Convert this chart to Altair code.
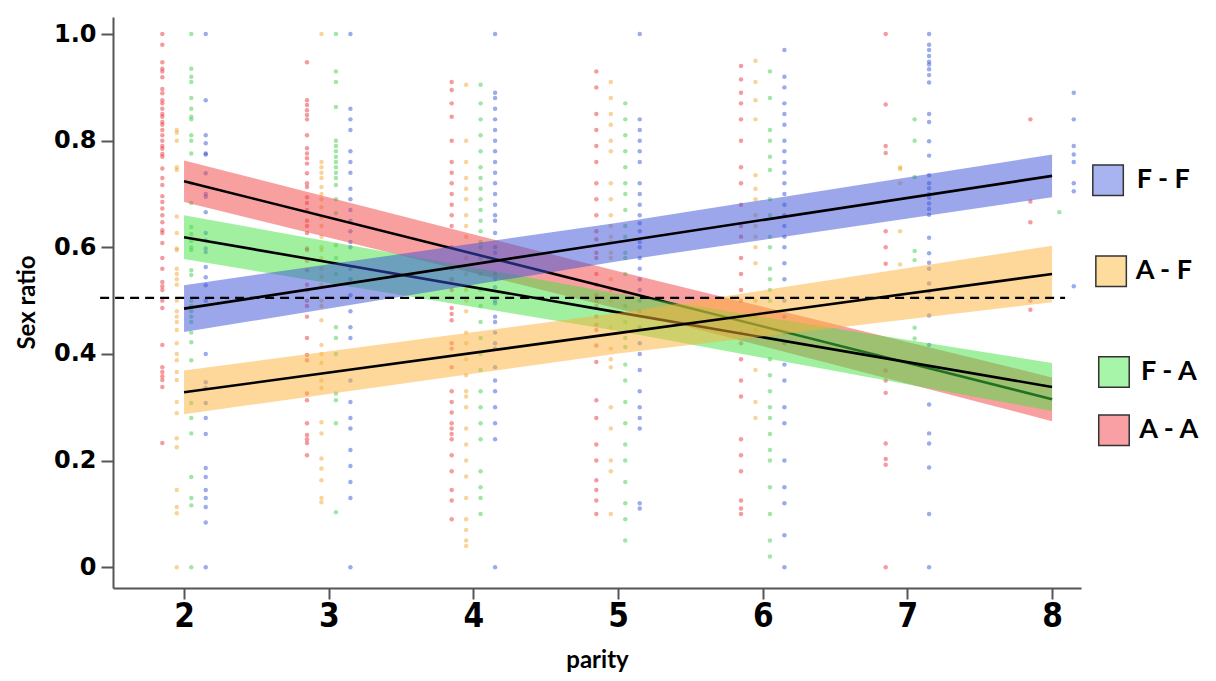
import altair as alt
import pandas as pd

# ---------------- data ----------------
parities = [2, 3, 4, 5, 6, 7, 8]
groups = ["A - A", "F - A", "A - F", "F - F"]
group_offset = [-0.15, 0.05, -0.05, 0.15]

# observed sex ratios, one list per parity (2..8)
aa_values = [
    [1.0, 0.98, 0.947, 0.935, 0.93, 0.919, 0.897, 0.889, 0.876, 0.87, 0.86, 0.85, 0.845, 0.835, 0.83, 0.82,
     0.81, 0.80, 0.79, 0.785, 0.775, 0.77, 0.748, 0.73, 0.717, 0.696, 0.685, 0.673, 0.66, 0.647, 0.632, 0.627,
     0.608, 0.58, 0.56, 0.535, 0.527, 0.52, 0.50, 0.486, 0.417, 0.375, 0.366, 0.358, 0.351, 0.338, 0.233],
    [0.947, 0.876, 0.867, 0.857, 0.848, 0.84, 0.81, 0.786, 0.776, 0.767, 0.757, 0.739, 0.72, 0.713, 0.694,
     0.683, 0.67, 0.65, 0.64, 0.627, 0.598, 0.595, 0.575, 0.557, 0.53, 0.52, 0.50, 0.49, 0.47, 0.43, 0.398,
     0.388, 0.326, 0.313, 0.27, 0.248, 0.24, 0.233, 0.21],
    [0.91, 0.895, 0.87, 0.845, 0.80, 0.76, 0.74, 0.72, 0.70, 0.68, 0.66, 0.64, 0.60, 0.56, 0.54, 0.52, 0.486,
     0.475, 0.463, 0.42, 0.41, 0.375, 0.33, 0.31, 0.29, 0.27, 0.26, 0.25, 0.24, 0.21, 0.18, 0.145, 0.125, 0.09],
    [0.93, 0.9, 0.85, 0.82, 0.79, 0.76, 0.72, 0.69, 0.66, 0.63, 0.615, 0.59, 0.58, 0.55, 0.53, 0.51, 0.50,
     0.49, 0.47, 0.455, 0.445, 0.416, 0.385, 0.313, 0.28, 0.23, 0.2, 0.163, 0.145, 0.125, 0.1],
    [0.94, 0.915, 0.89, 0.87, 0.84, 0.80, 0.75, 0.72, 0.68, 0.64, 0.62, 0.58, 0.55, 0.52, 0.5, 0.47, 0.44,
     0.42, 0.39, 0.35, 0.32, 0.24, 0.21, 0.18, 0.125, 0.11, 0.1],
    [1.0, 0.868, 0.79, 0.777, 0.63, 0.6, 0.569, 0.369, 0.35, 0.327, 0.232, 0.203, 0.192, 0.0],
    [0.84, 0.686, 0.647, 0.5, 0.483],
]
fa_values = [
    [1.0, 0.935, 0.92, 0.91, 0.88, 0.86, 0.845, 0.84, 0.81, 0.80, 0.776, 0.72, 0.683, 0.638, 0.625, 0.612,
     0.60, 0.595, 0.557, 0.548, 0.5, 0.49, 0.48, 0.47, 0.46, 0.44, 0.422, 0.388, 0.308, 0.28, 0.251, 0.169,
     0.13, 0.116, 0.0],
    [1.0, 0.93, 0.91, 0.863, 0.80, 0.79, 0.78, 0.77, 0.76, 0.75, 0.74, 0.73, 0.717, 0.69, 0.664, 0.604, 0.58,
     0.55, 0.45, 0.43, 0.4, 0.326, 0.313, 0.27, 0.103],
    [0.905, 0.87, 0.84, 0.81, 0.78, 0.75, 0.73, 0.71, 0.69, 0.67, 0.65, 0.63, 0.61, 0.6, 0.58, 0.55, 0.52,
     0.49, 0.46, 0.43, 0.4, 0.37, 0.33, 0.3, 0.27, 0.24, 0.18, 0.15, 0.13, 0.1],
    [0.87, 0.84, 0.81, 0.78, 0.75, 0.72, 0.7, 0.67, 0.64, 0.62, 0.59, 0.58, 0.55, 0.516, 0.49, 0.46, 0.43,
     0.413, 0.38, 0.35, 0.31, 0.27, 0.23, 0.2, 0.16, 0.12, 0.09, 0.05],
    [0.93, 0.88, 0.82, 0.8, 0.77, 0.745, 0.69, 0.66, 0.62, 0.6, 0.56, 0.54, 0.52, 0.5, 0.39, 0.36, 0.33, 0.3,
     0.28, 0.25, 0.22, 0.2, 0.15, 0.1, 0.05, 0.02],
    [0.84, 0.8, 0.732, 0.593, 0.576, 0.449, 0.429],
    [0.666],
]
af_values = [
    [0.82, 0.815, 0.80, 0.75, 0.745, 0.658, 0.627, 0.598, 0.595, 0.56, 0.55, 0.54, 0.53, 0.50, 0.48, 0.47,
     0.46, 0.445, 0.42, 0.40, 0.388, 0.366, 0.351, 0.31, 0.289, 0.242, 0.225, 0.145, 0.113, 0.101, 0.0],
    [1.0, 0.76, 0.75, 0.74, 0.73, 0.713, 0.70, 0.69, 0.675, 0.656, 0.64, 0.62, 0.60, 0.595, 0.58, 0.56, 0.545,
     0.53, 0.50, 0.49, 0.463, 0.417, 0.40, 0.383, 0.35, 0.336, 0.272, 0.251, 0.204, 0.185, 0.163, 0.13, 0.122],
    [0.905, 0.8, 0.76, 0.73, 0.71, 0.69, 0.66, 0.64, 0.62, 0.58, 0.55, 0.52, 0.5, 0.48, 0.44, 0.42, 0.39,
     0.36, 0.33, 0.32, 0.30, 0.26, 0.23, 0.2, 0.17, 0.13, 0.09, 0.07, 0.05, 0.04],
    [0.91, 0.88, 0.85, 0.83, 0.80, 0.78, 0.72, 0.69, 0.66, 0.64, 0.62, 0.61, 0.59, 0.58, 0.54, 0.52, 0.5,
     0.48, 0.45, 0.41, 0.39, 0.375, 0.3, 0.26, 0.2, 0.18, 0.1],
    [0.95, 0.91, 0.876, 0.84, 0.735, 0.71, 0.69, 0.66, 0.64, 0.62, 0.6, 0.57, 0.5, 0.47, 0.445, 0.37, 0.31, 0.28],
    [0.75, 0.747, 0.72, 0.63, 0.568],
    [],
]
ff_values = [
    [1.0, 0.876, 0.81, 0.795, 0.776, 0.774, 0.739, 0.70, 0.695, 0.666, 0.627, 0.613, 0.598, 0.591, 0.563,
     0.544, 0.529, 0.50, 0.4, 0.347, 0.336, 0.308, 0.28, 0.25, 0.186, 0.169, 0.145, 0.13, 0.113, 0.084, 0.0],
    [1.0, 0.86, 0.84, 0.82, 0.78, 0.76, 0.74, 0.71, 0.69, 0.67, 0.65, 0.63, 0.61, 0.6, 0.56, 0.54, 0.51, 0.48,
     0.45, 0.43, 0.35, 0.31, 0.28, 0.26, 0.22, 0.19, 0.16, 0.13, 0.0],
    [1.0, 0.89, 0.88, 0.86, 0.84, 0.82, 0.8, 0.78, 0.76, 0.74, 0.72, 0.7, 0.68, 0.66, 0.65, 0.627, 0.6, 0.59,
     0.55, 0.54, 0.525, 0.5, 0.495, 0.47, 0.46, 0.44, 0.42, 0.41, 0.375, 0.35, 0.33, 0.3, 0.27, 0.24, 0.0],
    [1.0, 0.84, 0.82, 0.8, 0.78, 0.76, 0.72, 0.7, 0.68, 0.66, 0.645, 0.63, 0.61, 0.6, 0.58, 0.56, 0.54, 0.52,
     0.5, 0.48, 0.45, 0.42, 0.4, 0.37, 0.33, 0.3, 0.28, 0.26, 0.12, 0.11],
    [0.97, 0.92, 0.9, 0.87, 0.85, 0.83, 0.8, 0.78, 0.76, 0.74, 0.72, 0.7, 0.68, 0.66, 0.64, 0.62, 0.6, 0.57,
     0.54, 0.5, 0.47, 0.44, 0.42, 0.38, 0.35, 0.3, 0.27, 0.2, 0.15, 0.12, 0.06, 0.0],
    [1.0, 0.98, 0.97, 0.959, 0.948, 0.943, 0.934, 0.923, 0.909, 0.85, 0.835, 0.799, 0.772, 0.735, 0.72, 0.711,
     0.7, 0.693, 0.682, 0.672, 0.661, 0.618, 0.589, 0.571, 0.56, 0.532, 0.517, 0.504, 0.472, 0.417, 0.305,
     0.251, 0.232, 0.187, 0.1, 0.0],
    [0.89, 0.84, 0.79, 0.774, 0.76, 0.72, 0.705, 0.527],
]

# fitted regression lines with confidence half-widths at parity 2, 5, 8
fit_parity = [2, 5, 8]
aa_fit = [0.724, 0.52, 0.315]
aa_half = [0.039, 0.035, 0.041]
fa_fit = [0.619, 0.478, 0.338]
fa_half = [0.041, 0.035, 0.045]
af_fit = [0.328, 0.439, 0.55]
af_half = [0.041, 0.038, 0.053]
ff_fit = [0.485, 0.61, 0.734]
ff_half = [0.044, 0.036, 0.04]

reference_ratio = 0.505

# ---------------- styles ----------------
point_colors = ["#e8202a", "#2ec83c", "#f0a020", "#2244d4"]
band_colors = ["#f14141", "#41e141", "#fbb135", "#3a4fd8"]
legend_fill = ["#f8a0a4", "#a6f5a8", "#fddc9e", "#a8b4f0"]

values_by_group = [aa_values, fa_values, af_values, ff_values]
fits = [(aa_fit, aa_half), (fa_fit, fa_half), (af_fit, af_half), (ff_fit, ff_half)]

rows = []
for g, off, vals in zip(groups, group_offset, values_by_group):
    for p, lst in zip(parities, vals):
        for v in lst:
            rows.append({"group": g, "parity": p, "offset": off, "ratio": v})
points_df = pd.DataFrame(rows)

xs = alt.Scale(domain=[1.509, 8.2], nice=False, zero=False)
ys = alt.Scale(domain=[-0.039, 1.032], nice=False, zero=False)

xaxis = alt.Axis(
    values=[2, 3, 4, 5, 6, 7, 8], title="parity", grid=False,
    labelFont="Liberation Sans Narrow, DejaVu Sans Condensed, sans-serif", labelFontSize=33,
    labelFontWeight="bold", labelColor="black", labelPadding=1, labelFlush=False,
    tickSize=11, tickWidth=2, tickColor="#555555", domainColor="#555555", domainWidth=2,
    titleFont="Lato", titleFontSize=24, titleFontWeight="bold", titleColor="black",
    titleY=79, titleBaseline="alphabetic",
)
yaxis = alt.Axis(
    values=[0, 0.2, 0.4, 0.6, 0.8, 1.0], title="Sex ratio", grid=False,
    labelExpr="datum.value == 0 ? '0' : format(datum.value, '.1f')",
    labelFont="DejaVu Sans", labelFontSize=24, labelFontWeight="bold", labelColor="black",
    labelPadding=5, labelFlush=False,
    tickSize=12, tickWidth=2, tickColor="#555555", domainColor="#555555", domainWidth=2,
    titleFont="Lato", titleFontSize=24, titleFontWeight="bold", titleColor="black",
    titleX=-79, titleY=285, titleAngle=270, titleBaseline="alphabetic", titleAlign="center",
)

points = alt.Chart(points_df).mark_circle(size=20, opacity=0.45).transform_calculate(
    xpos="datum.parity + datum.offset"
).encode(
    x=alt.X("xpos:Q", scale=xs, axis=xaxis),
    y=alt.Y("ratio:Q", scale=ys, axis=yaxis),
    color=alt.Color("group:N", scale=alt.Scale(domain=groups, range=point_colors), legend=None),
)

layers = [points]
for g, col, (fit, half) in zip(groups, band_colors, fits):
    df = pd.DataFrame({"parity": fit_parity, "fit": fit, "half": half})
    base = alt.Chart(df).transform_calculate(lo="datum.fit - datum.half", hi="datum.fit + datum.half")
    band = base.mark_area(color=col, opacity=0.5).encode(
        x=alt.X("parity:Q", scale=xs, axis=xaxis),
        y=alt.Y("lo:Q", scale=ys, axis=yaxis),
        y2="hi:Q",
    )
    line = base.mark_line(color="black", strokeWidth=2.6).encode(
        x=alt.X("parity:Q", scale=xs, axis=xaxis),
        y=alt.Y("fit:Q", scale=ys, axis=yaxis),
    )
    layers += [band, line]

ref_df = pd.DataFrame({"x0": [1.42], "x1": [8.09], "ratio": [reference_ratio]})
ref = alt.Chart(ref_df).mark_rule(color="black", strokeWidth=2.2, strokeDash=[9, 6]).encode(
    x=alt.X("x0:Q", scale=xs, axis=xaxis), x2="x1:Q",
    y=alt.Y("ratio:Q", scale=ys, axis=yaxis),
)
layers.append(ref)

# legend drawn in data space to the right of the plot
legend_labels = ["F - F", "A - F", "F - A", "A - A"]
legend_df = pd.DataFrame({
    "label": legend_labels,
    "box_x": [8.387, 8.408, 8.428, 8.428],
    "text_x": [8.585, 8.578, 8.615, 8.603],
    "ly": [0.726, 0.555, 0.366, 0.257],
})
legend_boxes = alt.Chart(legend_df).mark_square(size=930, stroke="#333333", strokeWidth=1.5, opacity=1).encode(
    x=alt.X("box_x:Q", scale=xs, axis=xaxis),
    y=alt.Y("ly:Q", scale=ys, axis=yaxis),
    fill=alt.Fill("label:N", scale=alt.Scale(domain=["A - A", "F - A", "A - F", "F - F"], range=legend_fill), legend=None),
)
legend_text = alt.Chart(legend_df).mark_text(
    align="left", baseline="middle", font="Lato", fontWeight="bold", fontSize=27, color="black"
).encode(
    x=alt.X("text_x:Q", scale=xs, axis=xaxis),
    y=alt.Y("ly:Q", scale=ys, axis=yaxis),
    text="label:N",
)
layers += [legend_boxes, legend_text]

chart = alt.layer(*layers).resolve_scale(color="independent").properties(
    width=968, height=571,
    autosize=alt.AutoSizeParams(type="none"),
    padding={"left": 105, "top": 9, "right": 126, "bottom": 91},
    background="white",
).configure_view(stroke=None)

chart.save("out.html", embed_options={"renderer": "svg", "actions": False})
